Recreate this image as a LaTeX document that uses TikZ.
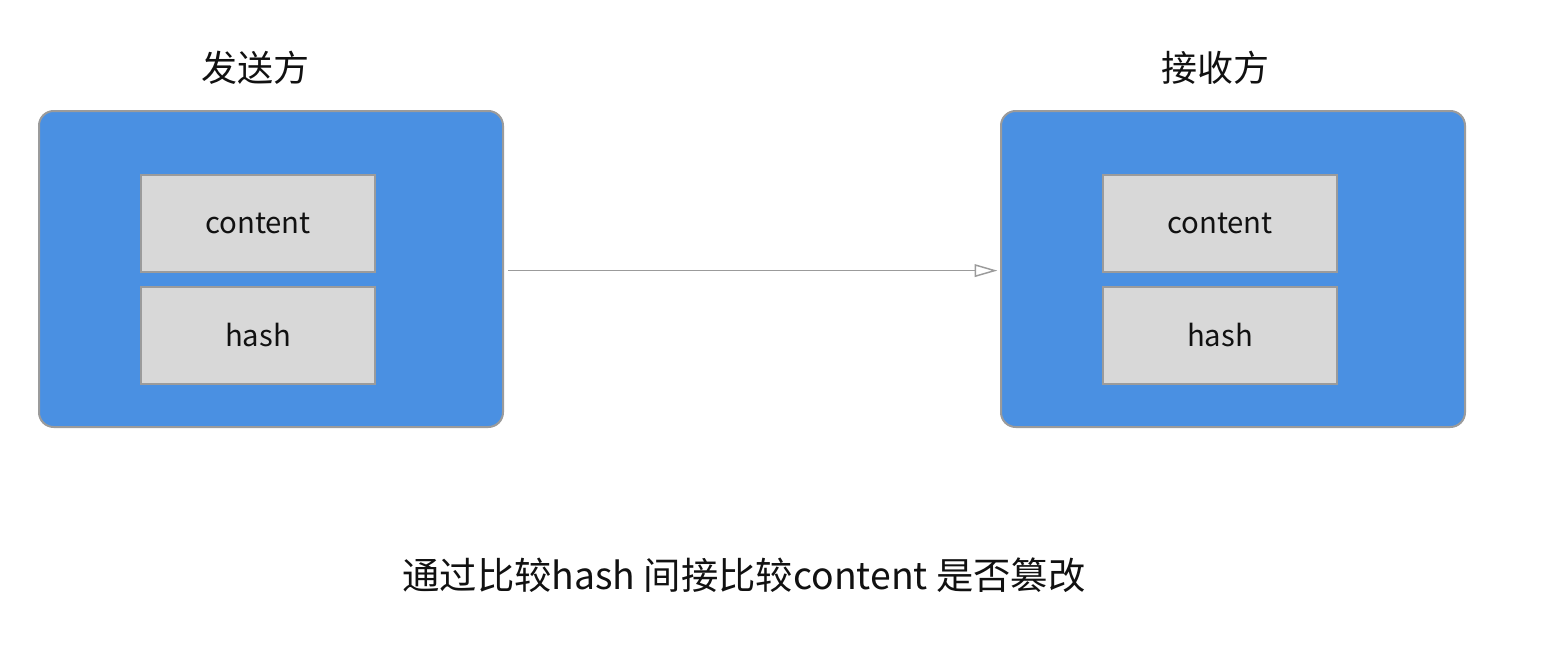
\documentclass[tikz,border=0pt]{standalone}
\usepackage{fontspec}
\setmainfont{Noto Sans CJK SC}
\usepackage{tikz}
\usetikzlibrary{positioning,arrows.meta}
\definecolor{azure}{HTML}{4A90E2}
\definecolor{edge}{HTML}{9B9B9B}
\definecolor{cell}{HTML}{D8D8D8}
\definecolor{ink}{HTML}{111111}

\begin{document}
\begin{tikzpicture}[
  x=0.75pt, y=-0.75pt,
  font=\fontsize{22pt}{25pt}\selectfont,
  >={Triangle[open, length=17pt, width=9.5pt]},
  party/.style={draw=edge, fill=azure, line width=1.5pt, rounded corners=11pt,
                minimum width=348pt, minimum height=237pt, inner sep=0pt},
  field/.style={draw=edge, fill=cell, line width=1.5pt, text=ink,
                minimum width=175.5pt, minimum height=72.75pt, inner sep=0pt},
  title/.style={font=\fontsize{27pt}{30pt}\selectfont, text=ink},
  link/.style={->, line width=1.1pt, draw=edge},
]
\useasboundingbox (0,0) rectangle (1546,654);

% the two parties
\node[party] (sender) at (271,269) {};
\node[party] (receiver) at (1233,269) {};

\node[field] (scontent) at (258,223.5) {content};
\node[field, below=9.75pt of scontent] (shash) {hash};
\node[field] (rcontent) at (1220,223.5) {content};
\node[field, below=9.75pt of rcontent] (rhash) {hash};

\node[title] (stitle) at (255,68) {发送方};
\node[title] (rtitle) at (1215,68) {接收方};

\draw[link] ([xshift=3pt,yshift=-1.2pt]sender.east) -- ([xshift=-2pt,yshift=-1.2pt]receiver.west);

\node[title, font=\fontsize{28pt}{31pt}\selectfont] (note) at (744,575)
  {通过比较hash 间接比较content 是否篡改};

\end{tikzpicture}
\end{document}
